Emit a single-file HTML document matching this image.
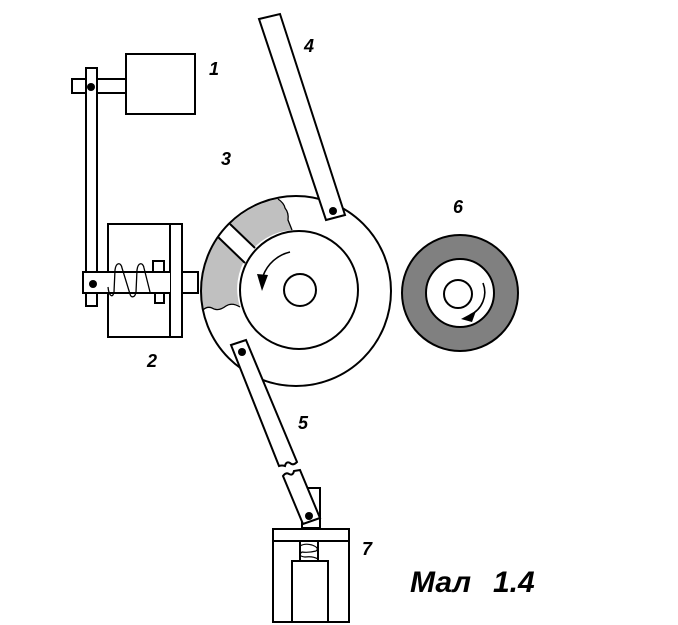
<!DOCTYPE html>
<html><head><meta charset="utf-8"><style>
html,body{margin:0;padding:0;background:#fff;}
svg{display:block;}
text{font-family:"Liberation Sans","DejaVu Sans",sans-serif;font-weight:bold;font-style:italic;fill:#000;}
</style></head><body>
<svg width="678" height="625" viewBox="0 0 678 625" xmlns="http://www.w3.org/2000/svg">
<rect width="678" height="625" fill="#fff"/>
<g stroke="#000" stroke-width="2" fill="none">
<!-- Box 1 and top stub -->
<rect x="126" y="54" width="69" height="60" fill="#fff"/>
<rect x="72" y="79" width="54" height="14" fill="#fff"/>
<!-- vertical lever -->
<rect x="86" y="68" width="11" height="238" fill="#fff"/>
<!-- housing 2 -->
<rect x="108" y="224" width="74" height="113" fill="#fff"/>
<line x1="170" y1="224" x2="170" y2="337"/>
<!-- pins -->
<rect x="153" y="261" width="11" height="11" fill="#fff"/>
<rect x="155" y="293" width="9" height="10" fill="#fff"/>
<!-- rod -->
<path d="M170,272 L83,272 L83,293 L170,293" fill="#fff"/>
<rect x="182" y="272" width="16" height="21" fill="#fff"/>
<!-- spring -->
<path stroke-width="1.3" d="M108,287 C109,297 113,298 114,292 L115,270 C116,262 121,262 122,268 L130,294 C131,298 135,298 136,292 L137,270 C138,262 143,262 144,268 L150,292"/>
</g>
<circle cx="91" cy="87" r="4" fill="#000"/>
<circle cx="93" cy="284" r="4" fill="#000"/>

<!-- Big wheel 3 -->
<path d="M203,310 A95,95 0 0 1 278,199 Q284,203 285,208 Q289,213 288,220 L292,230 A59,59 0 0 0 240,307 Q232,302 226,306 Q218,312 212,308 Q207,306 203,310 Z" fill="#c0c0c0"/>
<polygon points="218,237 230,224 255,248 245,263" fill="#fff"/>
<g stroke="#000" stroke-width="2" fill="none">
<path d="M278,199 Q284,203 285,208 Q289,213 288,220 L292,230" stroke-width="1.3"/>
<path d="M240,307 Q232,302 226,306 Q218,312 212,308 Q207,306 203,310" stroke-width="1.3"/>
<line x1="218" y1="237" x2="245" y2="263"/>
<line x1="230" y1="224" x2="255" y2="248"/>
<circle cx="296" cy="291" r="95"/>
<circle cx="299" cy="290" r="59"/>
<circle cx="300" cy="290" r="16"/>
<path d="M290,252 A38,38 0 0 0 263,276" stroke-width="1.6"/>
</g>
<polygon points="262,291 257,274 268,275" fill="#000"/>

<!-- Wheel 6 -->
<g stroke="#000" stroke-width="2">
<circle cx="460" cy="293" r="58" fill="#808080"/>
<circle cx="460" cy="293" r="34" fill="#fff"/>
<circle cx="458" cy="294" r="14" fill="none"/>
<path d="M483,283 A25,25 0 0 1 470,315" fill="none" stroke-width="1.6"/>
</g>
<polygon points="461,319 476,311 472,322" fill="#000"/>

<!-- Lever 4 -->
<polygon points="259,19 280,14 345,215 326,220" fill="#fff" stroke="#000" stroke-width="2"/>
<circle cx="333" cy="211" r="4" fill="#000"/>

<!-- Block 7 -->
<g stroke="#000" stroke-width="2" fill="none">
<rect x="302" y="488" width="18" height="40" fill="#fff"/>
<rect x="273" y="529" width="76" height="93" fill="#fff"/>
<line x1="273" y1="541" x2="349" y2="541"/>
<rect x="292" y="561" width="36" height="61" fill="#fff"/>
<line x1="300" y1="541" x2="300" y2="561"/>
<line x1="318" y1="541" x2="318" y2="561"/>
<path stroke-width="1.2" d="M300,546 Q305,543 312,545 Q320,548 316,551 Q308,553 302,552 Q297,556 305,557 Q313,556 318,559"/>
</g>

<!-- Lever 5 -->
<g stroke="#000" stroke-width="2" fill="#fff">
<path d="M231,345 L246,340 L297,462 Q293,466 290,463 Q286,461 285,466 Q282,465 279,466 Z"/>
<path d="M283,476 Q286,472 289,474 Q293,476 294,471 L300,470 L320,518 L303,524 Z"/>
</g>
<circle cx="242" cy="352" r="4" fill="#000"/>
<circle cx="309" cy="516" r="4" fill="#000"/>

<!-- Labels -->
<text x="209" y="75" font-size="18">1</text>
<text x="221" y="165" font-size="18">3</text>
<text x="304" y="52" font-size="18">4</text>
<text x="453" y="213" font-size="18">6</text>
<text x="147" y="367" font-size="18">2</text>
<text x="298" y="429" font-size="18">5</text>
<text x="362" y="555" font-size="18">7</text>
<text x="410" y="592" font-size="30">Мал</text>
<text x="493" y="592" font-size="30">1.4</text>
</svg>
</body></html>
